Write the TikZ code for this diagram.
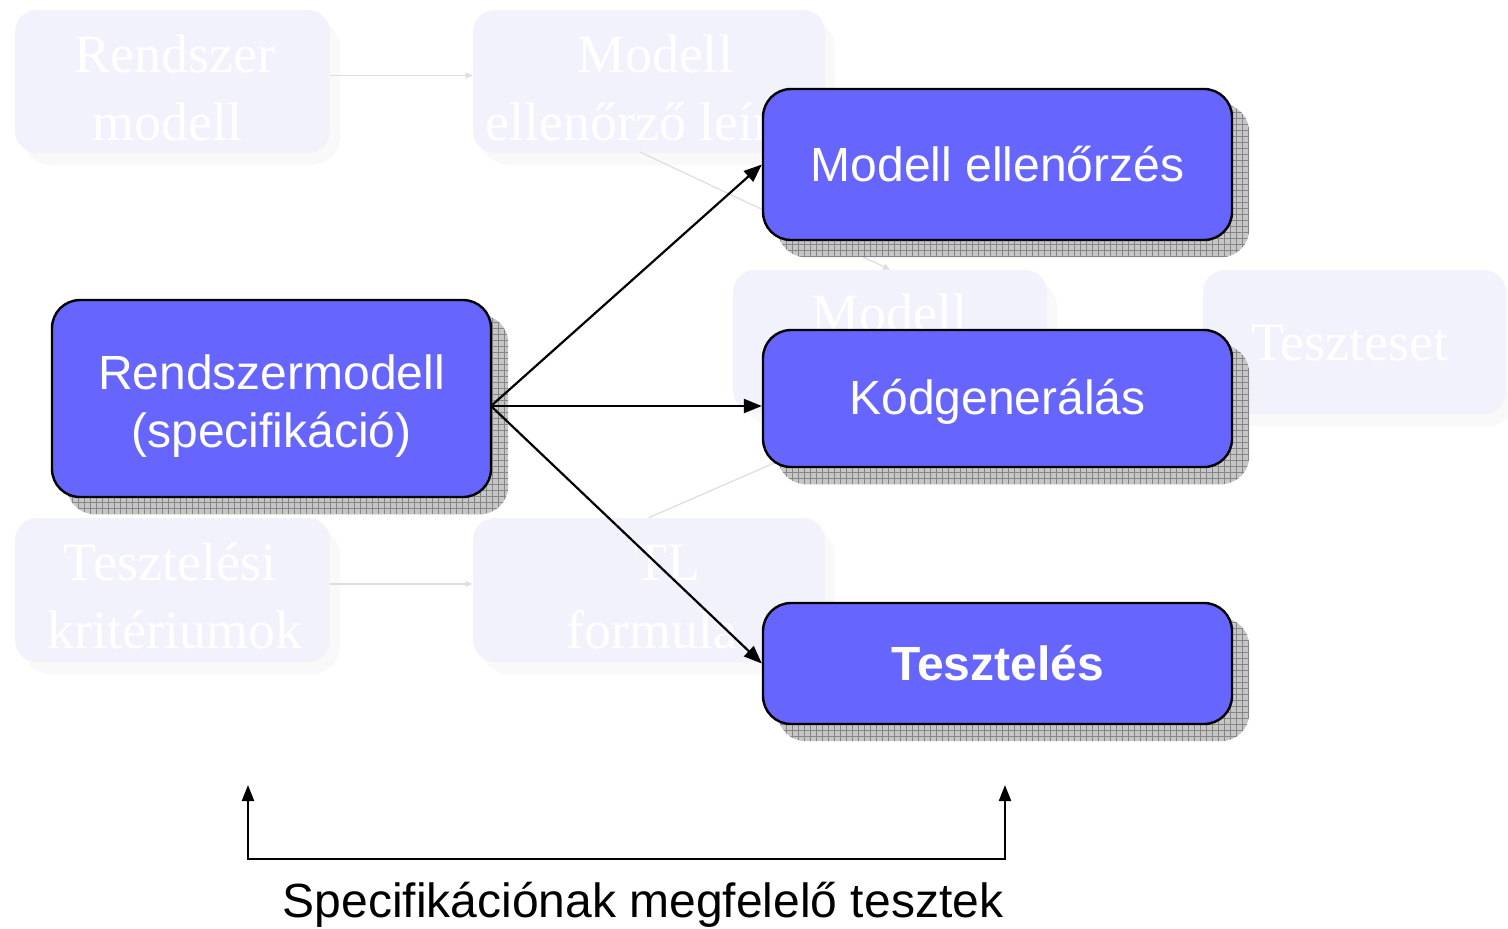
\documentclass[tikz,border=0pt]{standalone}
\usepackage{fontspec}
\setmainfont{Liberation Serif}
\newfontfamily\arial{Liberation Sans}
\usetikzlibrary{arrows.meta,calc,patterns}
\definecolor{boxblue}{RGB}{102,102,255}
\definecolor{fadefill}{RGB}{242,242,253}
\definecolor{fadeshade}{RGB}{249,249,249}
\definecolor{fadeline}{RGB}{222,222,222}
\pgfdeclarelayer{faded}
\pgfdeclarelayer{shade}
\pgfsetlayers{faded,shade,main}
\tikzset{
  mainbox/.style={draw=black, line width=1.2pt, fill=boxblue, rounded corners=14pt,
    text=white, align=center, font=\arial\fontsize{24}{29}\selectfont, inner sep=0pt},
  fadebox/.style={fill=fadefill, rounded corners=11pt, draw=none, inner sep=0pt,
    text=white, align=center, font=\fontsize{27}{34}\selectfont},
  fadetext/.style={text=white, font=\fontsize{27}{34}\selectfont, inner sep=0pt},
  fadearrow/.style={draw=fadeline, line width=0.6pt, -{Triangle[length=3.5pt,width=3pt]}},
  mainarrow/.style={draw=black, line width=1.1pt, -{Triangle[length=9pt,width=7pt]}},
  bracket/.style={draw=black, line width=1.1pt,
    {Triangle[length=8pt,width=6pt]}-{Triangle[length=8pt,width=6pt]}},
}
\begin{document}
\begin{tikzpicture}[x=0.5pt,y=-0.5pt]
\useasboundingbox (0,0) rectangle (1508,928);

% ---- faint overview chart in the background ----
\begin{pgfonlayer}{faded}
  \fill[white] (0,0) rectangle (1508,928);
  \foreach \cx/\cy/\w/\h in {172.5/81.5/157.5/71.5, 649/81.5/176/71.5,
      890/341/157/71, 1354.5/342/151.5/72, 172.5/590/157.5/72, 649/590/176/72}{
    \fill[fadeshade, rounded corners=14pt]
      ($(\cx,\cy)+(-\w+8,-\h+10)$) rectangle ($(\cx,\cy)+(\w+10,\h+12)$);
  }
  \node[fadebox, minimum width=157.5pt, minimum height=71.5pt] (frm) at (172.5,81.5) {};
  \node[fadebox, minimum width=176pt, minimum height=71.5pt] (fml) at (649,81.5) {};
  \node[fadebox, minimum width=157pt, minimum height=71pt] (fmo) at (890,341) {};
  \node[fadebox, minimum width=151.5pt, minimum height=72pt] (fts) at (1354.5,342) {};
  \node[fadebox, minimum width=157.5pt, minimum height=72pt] (ftk) at (172.5,590) {};
  \node[fadebox, minimum width=176pt, minimum height=72pt] (ftl) at (649,590) {};

  \node[fadetext, anchor=base] (frm1) at (175,72) {Rendszer};
  \node[fadetext, anchor=base] (frm2) at (167,140) {modell};
  \node[fadetext, anchor=base] (fml1) at (655,72) {Modell};
  \node[fadetext, anchor=base] (fml2) at (651,140) {ellenőrző leírás};
  \node[fadetext, anchor=base] (fmo1) at (889,331) {Modell};
  \node[fadetext, anchor=base] (fts1) at (1350,360) {Teszteset};
  \node[fadetext, anchor=base] (ftk1) at (170,580) {Tesztelési};
  \node[fadetext, anchor=base] (ftk2) at (175,648) {kritériumok};
  \node[fadetext, anchor=base] (ftl1) at (667,580) {TL};
  \node[fadetext, anchor=base] (ftl2) at (652,648) {formula};

  \draw[fadearrow] ([yshift=3pt]frm.east) -- ([yshift=3pt]fml.west);
  \draw[fadearrow] ([yshift=3pt]ftk.east) -- ([yshift=3pt]ftl.west);
  \draw[fadearrow] (640,152) -- (fmo.north);
  \draw[fadearrow] (ftl.north) -- (fmo.south);
\end{pgfonlayer}

% ---- main boxes ----
\node[mainbox, minimum width=219.5pt, minimum height=98.5pt] (rs) at (271.5,398.5)
  {\rule{0pt}{25pt}Rendszermodell\\(specifikáció)};
\node[mainbox, minimum width=234.5pt, minimum height=75.5pt] (me) at (997.5,164.5)
  {Modell ellenőrzés};
\node[mainbox, minimum width=234.5pt, minimum height=68.5pt] (kg) at (997.5,398.5)
  {\rule{0pt}{21pt}Kódgenerálás};
\node[mainbox, minimum width=234.5pt, minimum height=60.5pt] (tz) at (997.5,663.5)
  {\bfseries Tesztelés};

% hatched drop shadows behind the main boxes
\begin{pgfonlayer}{shade}
  \foreach \n in {rs,me,kg,tz}{
    \fill[gray!45, rounded corners=14pt]
      ($(\n.north west)+(16,16)$) rectangle ($(\n.south east)+(16,16)$);
    \fill[pattern=grid, pattern color=gray!95, rounded corners=14pt]
      ($(\n.north west)+(16,16)$) rectangle ($(\n.south east)+(16,16)$);
  }
\end{pgfonlayer}

% ---- connectors ----
\coordinate (hub) at (491,406);
\draw[mainarrow] (hub) -- (me.west);
\draw[mainarrow] (hub) -- (kg.west |- hub);
\draw[mainarrow] (hub) -- (tz.west);

\coordinate (bl) at (248,785);
\coordinate (br) at (1005,785);
\coordinate (bot) at (626,859);
\draw[bracket] (bl) |- (bot) -| (br);

\node[font=\arial\fontsize{24}{29}\selectfont, inner sep=0pt] (spec) at (643,905)
  {Specifikációnak megfelelő tesztek};
\end{tikzpicture}
\end{document}
